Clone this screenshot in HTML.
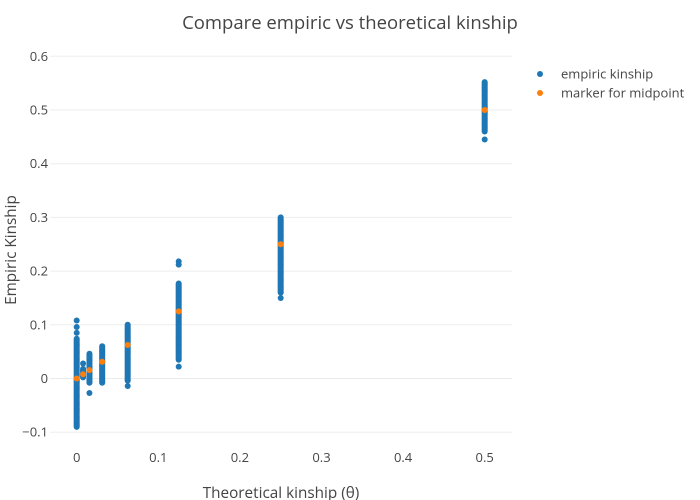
<!DOCTYPE html>
<html><head><meta charset="utf-8"><style>
body{margin:0;background:#fff;}
svg{display:block;font-family:"Open Sans","Liberation Sans",sans-serif;}
</style></head><body>
<svg id="chart" width="700" height="500">
<text x="350" y="29" text-anchor="middle" font-size="18.5" fill="#444">Compare empiric vs theoretical kinship</text>
<g id="grid"></g><g id="ticks"></g><g id="marks"></g>
<text transform="translate(16,250) rotate(-90)" text-anchor="middle" font-size="15.3" fill="#444">Empiric Kinship</text>
<text x="281" y="498" text-anchor="middle" font-size="15.3" fill="#444">Theoretical kinship (θ)</text>
<g>
<g><circle cx="540" cy="74" r="3" fill="#1f77b4"/><text x="561" y="78.5" font-size="13" fill="#444">empiric kinship</text></g>
<g><circle cx="540" cy="93" r="3" fill="#ff7f0e"/><text x="561" y="97.5" font-size="13" fill="#444">marker for midpoint</text></g>
</g>
</svg>
<script>
const thetas=[0,0.0078125,0.015625,0.03125,0.0625,0.125,0.25,0.5];
const mins=[-0.09,0.002,-0.008,-0.008,-0.004,0.035,0.16,0.46];
const maxs=[0.075,0.018,0.046,0.06,0.1,0.178,0.3,0.553];
const outlierX=[0,0,0,0.0078125,0.015625,0.0625,0.125,0.125,0.125,0.25,0.5];
const outlierY=[0.108,0.096,0.085,0.028,-0.027,-0.014,0.218,0.212,0.022,0.15,0.445];
const mids=[0,0.0078125,0.015625,0.03125,0.0625,0.125,0.25,0.5];
const yTicks=[-0.1,0,0.1,0.2,0.3,0.4,0.5,0.6];
const yTickLabels=["−0.1","0","0.1","0.2","0.3","0.4","0.5","0.6"];
const xTicks=[0,0.1,0.2,0.3,0.4,0.5];
const xTickLabels=["0","0.1","0.2","0.3","0.4","0.5"];
const NS="http://www.w3.org/2000/svg";
const X=v=>76.7+v*816;
const Y=v=>378.5-v*537;
function mk(t,a,p){const e=document.createElementNS(NS,t);for(const k in a)e.setAttribute(k,a[k]);p.appendChild(e);return e;}
const grid=document.getElementById('grid'),ticks=document.getElementById('ticks'),marks=document.getElementById('marks');
yTicks.forEach((v,i)=>{
 const l=mk('line',{x1:50,x2:512,y1:Y(v),y2:Y(v),stroke:v===0?'#ebebeb':'#eee','stroke-width':1},grid);
 
 
 const t=mk('text',{x:48,y:Y(v)+4.5,'text-anchor':'end','font-size':13,fill:'#444'},ticks);
 t.textContent=yTickLabels[i];
 
 
});
xTicks.forEach((v,i)=>{
 const t=mk('text',{x:X(v),y:462,'text-anchor':'middle','font-size':13,fill:'#444'},ticks);
 t.textContent=xTickLabels[i];
 
 
});
thetas.forEach((th,i)=>{
 for(let v=mins[i];v<=maxs[i]+1e-9;v+=0.002){
  const c=mk('circle',{cx:X(th),cy:Y(v),r:3,fill:'#1f77b4'},marks);
  
  
 }
});
outlierX.forEach((th,i)=>{
 const c=mk('circle',{cx:X(th),cy:Y(outlierY[i]),r:3,fill:'#1f77b4'},marks);
 
 
});
mids.forEach(v=>{
 const c=mk('circle',{cx:X(v),cy:Y(v),r:3,fill:'#ff7f0e'},marks);
 
 
});
</script>
</body></html>
